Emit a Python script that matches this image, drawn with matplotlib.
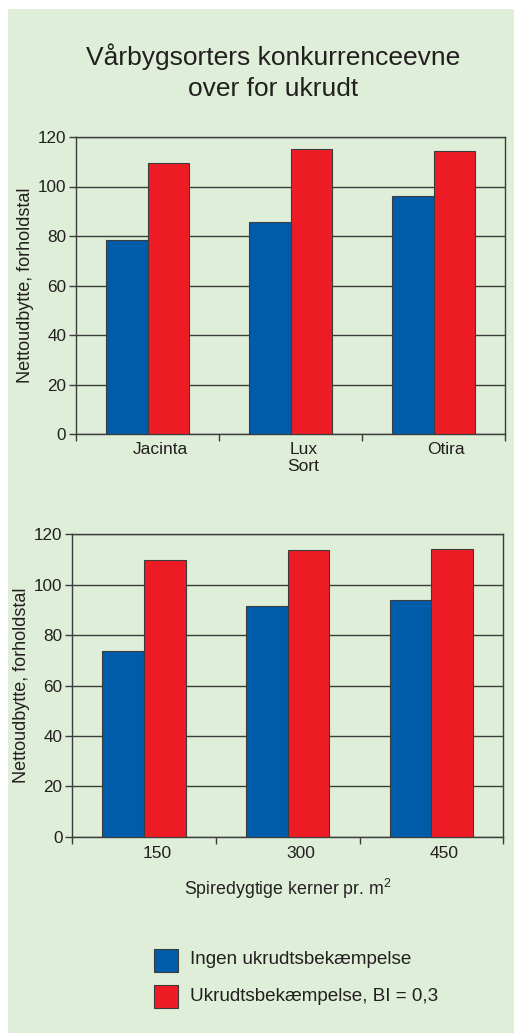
import matplotlib
matplotlib.use("Agg")
import matplotlib.pyplot as plt
from matplotlib.patches import Rectangle

plt.rcParams['font.family'] = ['Liberation Sans', 'DejaVu Sans']
plt.rcParams['mathtext.fontset'] = 'custom'
plt.rcParams['mathtext.rm'] = 'Liberation Sans'
plt.rcParams['mathtext.default'] = 'regular'

# Data
varieties = ["Jacinta", "Lux\nSort", "Otira"]
variety_no_control = [78.3, 85.5, 96.0]
variety_control = [109.4, 115.2, 114.3]

seed_rates = ["150", "300", "450"]
seed_no_control = [73.6, 91.5, 93.9]
seed_control = [109.7, 113.8, 114.3]

series_names = ["Ingen ukrudtsbekæmpelse", "Ukrudtsbekæmpelse, BI = 0,3"]
yticks = [0, 20, 40, 60, 80, 100, 120]

BG = "#dfeed8"
BLUE = "#005ca8"
RED = "#ed1c24"
LINE = "#3c3c3c"
TXT = "#231f20"

W, H = 514, 1033
fig = plt.figure(figsize=(W / 100, H / 100), dpi=100)
fig.patch.set_facecolor("white")
fig.patches.append(Rectangle((8 / W, 0), 1 - 8 / W, 1 - 9 / H, transform=fig.transFigure,
                             facecolor=BG, edgecolor="none", zorder=-10))


def px_axes(left, top, right, bottom):
    return fig.add_axes([left / W, 1 - bottom / H, (right - left) / W, (bottom - top) / H])


def bar_panel(ax, labels, a, b, label_pad):
    ax.set_facecolor("none")
    x = range(len(labels))
    w = 0.29
    ax.bar([i - w / 2 for i in x], a, width=w, color=BLUE, edgecolor=LINE, linewidth=0.8, zorder=3)
    ax.bar([i + w / 2 for i in x], b, width=w, color=RED, edgecolor=LINE, linewidth=0.8, zorder=3)
    ax.set_xlim(-0.5, len(labels) - 0.5)
    ax.set_ylim(0, 120)
    ax.set_yticks(yticks)
    ax.set_yticklabels([str(t) for t in yticks], fontsize=12.3, color=TXT)
    ax.yaxis.grid(True, color=LINE, linewidth=1.0, zorder=0)
    ax.set_axisbelow(True)
    ax.set_xticks([i - 0.5 for i in range(len(labels) + 1)])
    ax.set_xticklabels([])
    ax.set_xticks([i + 0.09 for i in x], minor=True)
    ax.set_xticklabels(labels, minor=True, fontsize=12.5, color=TXT, linespacing=1.1)
    ax.tick_params(axis="x", which="major", length=5, width=1, color=LINE, direction="out")
    ax.tick_params(axis="x", which="minor", length=0, pad=label_pad)
    ax.tick_params(axis="y", length=5, width=1, color=LINE, direction="out", pad=2)
    for s in ax.spines.values():
        s.set_color(LINE)
        s.set_linewidth(1.0)
    ax.set_ylabel("Nettoudbytte, forholdstal", fontsize=13, color=TXT, labelpad=3)


ax1 = px_axes(76, 137, 505, 434)
bar_panel(ax1, varieties, variety_no_control, variety_control, 6)

ax2 = px_axes(72.3, 534.3, 503.3, 836.7)
bar_panel(ax2, seed_rates, seed_no_control, seed_control, 7)
ax2.set_xlabel("Spiredygtige kerner pr. m$^{2}$", fontsize=12.8, color=TXT, labelpad=11)

# Title
fig.text(273 / W, 1 - 65 / H, "Vårbygsorters konkurrenceevne", ha="center", va="baseline",
         fontsize=19, color=TXT)
fig.text(273 / W, 1 - 96 / H, "over for ukrudt", ha="center", va="baseline",
         fontsize=19, color=TXT)

# Legend
for name, col, yc in [(series_names[0], BLUE, 960), (series_names[1], RED, 996.5)]:
    fig.patches.append(Rectangle((154 / W, 1 - (yc + 11.5) / H), 24 / W, 23 / H,
                                 transform=fig.transFigure, facecolor=col,
                                 edgecolor=LINE, linewidth=0.8))
    fig.text(190 / W, 1 - yc / H, name, ha="left", va="center", fontsize=13.6, color=TXT)

fig.savefig("out.png", dpi=100, facecolor=fig.get_facecolor())
